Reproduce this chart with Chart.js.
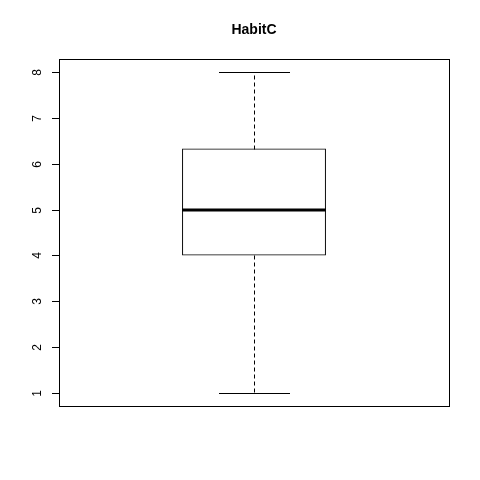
<!DOCTYPE html>
<html>
<head>
<meta charset="utf-8">
<script src="https://cdn.jsdelivr.net/npm/chart.js@4/dist/chart.umd.min.js"></script>
<style>
html,body{margin:0;padding:0;background:#fff;}
#wrap{width:480px;height:480px;position:relative;}
</style>
</head>
<body>
<div id="wrap"><canvas id="c" width="480" height="480"></canvas></div>
<script>
const categories = ["HabitC"];
const lowerWhisker = [1];
const q1 = [4];
const median = [5];
const q3 = [6.33];
const upperWhisker = [8];
const yTicks = [1, 2, 3, 4, 5, 6, 7, 8];
const chartTitle = "HabitC";

const boxPlugin = {
  id: 'boxPlugin',
  afterDatasetsDraw(chart) {
    const ctx = chart.ctx;
    const ys = chart.scales.y;
    const meta = chart.getDatasetMeta(0);
    const area = chart.chartArea;
    ctx.save();
    ctx.strokeStyle = '#000';
    meta.data.forEach((bar, i) => {
      const cx = Math.round(bar.x) + 0.5;
      const half = bar.width / 2;
      const yLo = Math.round(ys.getPixelForValue(lowerWhisker[i])) + 0.5;
      const yHi = Math.round(ys.getPixelForValue(upperWhisker[i])) + 0.5;
      const yQ1 = Math.round(ys.getPixelForValue(q1[i])) + 0.5;
      const yQ3 = Math.round(ys.getPixelForValue(q3[i])) + 0.5;
      const yMed = Math.round(ys.getPixelForValue(median[i]));
      // whiskers (dashed)
      ctx.lineWidth = 1;
      ctx.setLineDash([4, 3]);
      ctx.beginPath();
      ctx.moveTo(cx, yQ3); ctx.lineTo(cx, yHi);
      ctx.moveTo(cx, yQ1); ctx.lineTo(cx, yLo);
      ctx.stroke();
      ctx.setLineDash([]);
      // caps
      ctx.beginPath();
      ctx.moveTo(Math.round(cx - half / 2), yHi); ctx.lineTo(Math.round(cx + half / 2), yHi);
      ctx.moveTo(Math.round(cx - half / 2), yLo); ctx.lineTo(Math.round(cx + half / 2), yLo);
      ctx.stroke();
      // median
      ctx.lineWidth = 3;
      ctx.beginPath();
      ctx.moveTo(Math.round(bar.x - half), yMed); ctx.lineTo(Math.round(bar.x + half), yMed);
      ctx.stroke();
    });
    // plot frame
    ctx.lineWidth = 1;
    ctx.strokeStyle = '#000';
    ctx.strokeRect(Math.round(area.left) + 0.5, Math.round(area.top) + 0.5,
                   Math.round(area.right - area.left), Math.round(area.bottom - area.top));
    // y ticks and rotated labels
    ctx.fillStyle = '#000';
    ctx.font = '12px "Liberation Sans", Arial, sans-serif';
    ctx.textAlign = 'center';
    ctx.textBaseline = 'middle';
    yTicks.forEach(v => {
      const py = Math.round(ys.getPixelForValue(v)) + 0.5;
      ctx.beginPath();
      ctx.moveTo(Math.round(area.left) - 7, py);
      ctx.lineTo(Math.round(area.left), py);
      ctx.stroke();
      ctx.save();
      ctx.translate(Math.round(area.left) - 21, py);
      ctx.rotate(-Math.PI / 2);
      ctx.fillText(String(v), 0, 0);
      ctx.restore();
    });
    // title
    ctx.font = 'bold 14px "Liberation Sans", Arial, sans-serif';
    ctx.textAlign = 'center';
    ctx.textBaseline = 'middle';
    ctx.fillText(chartTitle, (area.left + area.right) / 2, 30);
    ctx.restore();
  }
};

new Chart(document.getElementById('c'), {
  type: 'bar',
  data: {
    labels: categories,
    datasets: [{
      data: categories.map((c, i) => [q1[i], q3[i]]),
      backgroundColor: 'rgba(0,0,0,0)',
      borderColor: '#000',
      borderWidth: 1,
      borderSkipped: false,
      categoryPercentage: 1,
      barPercentage: 0.369
    }]
  },
  options: {
    responsive: false,
    animation: false,
    devicePixelRatio: 1,
    layout: { padding: { left: 59, top: 59, right: 31, bottom: 74 } },
    plugins: { legend: { display: false }, title: { display: false }, tooltip: { enabled: false } },
    scales: {
      x: { display: false },
      y: { display: false, min: 0.72, max: 8.28 }
    }
  },
  plugins: [boxPlugin]
});
</script>
</body>
</html>
